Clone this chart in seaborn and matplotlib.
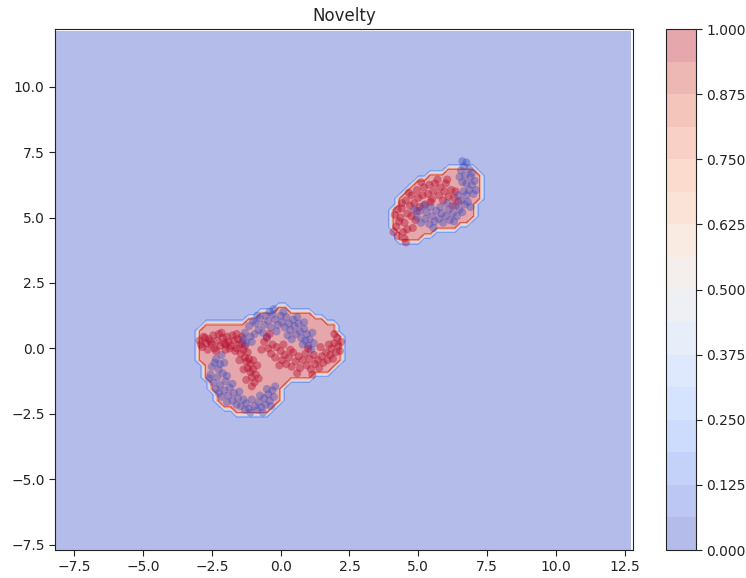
import numpy as np
import pandas as pd
import matplotlib
matplotlib.use("Agg")
import matplotlib.pyplot as plt
from matplotlib.path import Path
import seaborn as sns

# ---------------- data ----------------
x_limits = (-8.2, 12.8)
y_limits = (-7.7, 12.2)
x_ticks = [-7.5, -5.0, -2.5, 0.0, 2.5, 5.0, 7.5, 10.0, 12.5]
y_ticks = [-7.5, -5.0, -2.5, 0.0, 2.5, 5.0, 7.5, 10.0]
cbar_ticks = [0.0, 0.125, 0.25, 0.375, 0.5, 0.625, 0.75, 0.875, 1.0]

# boundary of the high-novelty region (lower cluster)
region_lower = [(-3.05, 0.45), (-2.85, 0.90), (-1.50, 0.98), (-0.95, 1.22), (-0.65, 1.42),
                (0.00, 1.60), (0.25, 1.55), (1.00, 1.42), (1.62, 1.10), (2.00, 0.85),
                (2.20, 0.45), (2.20, -0.35), (1.88, -0.86), (1.15, -1.12), (0.30, -1.18),
                (0.10, -1.38), (0.00, -1.90), (-0.20, -2.28), (-0.35, -2.52), (-1.30, -2.62),
                (-1.80, -2.38), (-2.15, -2.12), (-2.45, -1.75), (-2.70, -1.22), (-2.88, -0.60),
                (-3.05, -0.20)]
# boundary of the high-novelty region (upper cluster)
region_upper = [(6.27, 7.00), (7.00, 7.00), (7.25, 6.75), (7.25, 5.70), (7.00, 5.08),
                (6.75, 4.82), (6.15, 4.50), (5.54, 4.45), (5.06, 4.10), (4.34, 4.10),
                (4.08, 4.50), (3.96, 4.95), (4.20, 5.58), (4.58, 6.10), (5.06, 6.48),
                (5.54, 6.68), (6.03, 6.88)]

# samples, class 1 (red) and class 0 (blue)
red_lower_left = [(-2.95, 0.30), (-2.85, 0.05), (-2.80, 0.45), (-2.70, 0.20), (-2.65, -0.05), (-2.60, 0.35),
                  (-2.50, 0.15), (-2.45, 0.50), (-2.40, 0.00), (-2.30, 0.30), (-2.25, 0.55), (-2.20, 0.10),
                  (-2.10, 0.40), (-2.05, 0.20), (-2.00, -0.05), (-1.95, 0.45), (-1.90, 0.25), (-1.80, 0.10),
                  (-1.75, 0.50), (-1.70, 0.30), (-1.60, 0.00), (-1.55, 0.35), (-1.50, 0.15), (-1.45, -0.20),
                  (-1.40, 0.20), (-1.35, -0.05), (-1.30, -0.35), (-1.30, 0.10), (-1.25, -0.50), (-1.20, -0.15),
                  (-1.20, -0.75), (-1.15, -0.40), (-1.10, -0.90), (-1.10, -0.60), (-1.05, -1.10), (-1.00, -0.80),
                  (-0.95, -1.30), (-1.00, -0.45), (-0.90, -1.00), (-1.05, -1.45), (-2.75, 0.40), (-2.35, -0.10),
                  (-1.85, 0.00), (-1.65, -0.10), (-1.50, -0.45), (-0.85, -0.65), (-1.25, -1.20), (-2.55, 0.25),
                  (-2.15, 0.60), (-1.40, 0.45), (-2.90, 0.15), (-1.60, 0.55), (-0.80, -1.15), (-1.35, -0.80),
                  (-2.00, 0.15)]
blue_lower_left = [(-2.15, -0.25), (-2.35, -0.40), (-2.05, -0.55), (-2.50, -0.70), (-2.25, -0.80), (-2.55, -1.00),
                   (-2.30, -1.10), (-2.10, -0.95), (-2.45, -1.30), (-2.20, -1.40), (-2.00, -1.25), (-2.35, -1.55),
                   (-2.05, -1.60), (-1.85, -1.50), (-2.15, -1.85), (-1.90, -1.80), (-1.70, -1.70), (-1.75, -2.00),
                   (-1.55, -1.90), (-1.45, -2.20), (-1.35, -1.95), (-1.25, -2.10), (-1.15, -2.30), (-1.05, -1.95),
                   (-0.95, -2.20), (-0.85, -2.35), (-0.80, -2.05), (-0.70, -2.25), (-0.60, -1.90), (-0.55, -2.15),
                   (-0.45, -1.75), (-0.40, -2.00), (-0.30, -1.60), (-0.25, -1.85), (-0.50, -1.55), (-1.60, -2.15),
                   (-2.40, -0.55), (-1.95, -1.05), (-2.25, -1.70), (-1.10, -2.45), (-0.75, -1.80), (-1.50, -1.65),
                   (-2.60, -1.15), (-0.35, -2.20), (-1.30, -2.35), (-1.95, -2.05), (-2.20, -0.60), (-0.65, -2.45),
                   (-0.20, -1.45), (-1.75, -1.35)]
blue_lower_right = [(-1.25, 0.20), (-1.10, 0.45), (-1.30, 0.60), (-0.95, 0.55), (-1.15, 0.85), (-0.90, 0.95),
                    (-0.80, 0.70), (-0.75, 1.15), (-0.60, 0.90), (-0.55, 1.25), (-0.45, 1.05), (-0.35, 0.80),
                    (-0.30, 1.30), (-0.20, 1.10), (-0.10, 0.90), (0.00, 1.25), (0.05, 1.00), (0.15, 0.80),
                    (0.20, 1.20), (0.30, 0.95), (0.35, 0.70), (0.45, 1.10), (0.50, 0.85), (0.55, 0.55),
                    (0.65, 0.95), (0.70, 0.65), (0.75, 0.40), (0.85, 0.75), (0.90, 0.30), (0.95, 0.55),
                    (1.00, 0.10), (1.05, 0.35), (1.10, -0.05), (0.80, 0.15), (-1.05, 0.25), (-0.65, 0.60),
                    (-0.15, 0.65), (0.25, 0.50), (-0.85, 1.25), (-0.40, 1.40), (0.10, 1.40), (0.60, 1.20),
                    (1.15, 0.60), (-1.35, 0.35), (-0.50, 0.45), (0.40, 0.35), (1.20, 0.20), (-0.25, 1.50),
                    (0.85, 1.00), (-1.00, 1.05)]
red_lower_right = [(-0.60, 0.25), (-0.45, 0.00), (-0.50, 0.40), (-0.30, 0.15), (-0.35, -0.20), (-0.15, 0.05),
                   (-0.20, -0.35), (0.00, -0.10), (0.05, -0.45), (0.15, -0.25), (0.20, -0.60), (0.30, -0.35),
                   (0.40, -0.70), (0.45, -0.15), (0.55, -0.50), (0.65, -0.30), (0.70, -0.75), (0.80, -0.45),
                   (0.90, -0.20), (0.95, -0.65), (1.05, -0.40), (1.10, -0.80), (1.20, -0.25), (1.25, -0.60),
                   (1.35, -0.45), (1.40, -0.75), (1.50, -0.30), (1.55, -0.55), (1.65, -0.15), (1.70, -0.45),
                   (1.80, -0.25), (1.85, 0.00), (1.90, -0.40), (1.95, 0.20), (2.00, -0.15), (2.05, 0.40),
                   (2.10, 0.10), (1.95, 0.55), (2.15, -0.10), (1.75, 0.15), (-0.40, 0.55), (-0.70, -0.05),
                   (0.10, 0.15), (0.60, -0.95), (1.00, 0.00), (1.45, 0.05), (2.20, 0.25), (0.35, -0.05),
                   (-0.05, -0.65), (1.15, -1.00)]
red_upper = [(4.25, 4.30), (4.45, 4.45), (4.20, 4.65), (4.50, 4.80), (4.35, 5.00), (4.15, 5.10), (4.60, 5.15),
             (4.40, 5.35), (4.70, 5.45), (4.55, 5.65), (4.85, 5.55), (4.75, 5.85), (5.00, 5.75), (4.95, 6.05),
             (5.15, 5.85), (5.20, 6.15), (5.35, 5.90), (5.40, 6.25), (5.55, 6.00), (5.60, 6.30), (5.75, 5.85),
             (5.80, 6.15), (5.95, 6.00), (6.00, 6.30), (6.10, 5.80), (6.20, 6.05), (6.30, 5.75), (6.35, 6.00),
             (4.60, 4.55), (4.75, 5.05), (5.05, 5.40), (5.45, 5.60), (5.90, 5.65), (4.30, 4.85), (4.10, 4.45),
             (4.50, 4.20), (4.90, 4.90), (5.25, 5.50), (5.70, 6.45), (4.65, 5.95), (4.40, 5.55), (6.45, 5.60),
             (5.10, 6.35), (4.80, 4.60), (4.25, 5.30), (5.50, 5.70), (6.05, 6.45), (4.55, 4.05), (4.95, 5.25),
             (6.25, 5.45)]
blue_upper = [(4.95, 5.00), (5.10, 4.80), (5.05, 5.25), (5.25, 4.95), (5.30, 5.20), (5.40, 4.75), (5.50, 5.05),
              (5.60, 4.85), (5.65, 5.25), (5.75, 4.95), (5.85, 5.15), (5.90, 4.80), (6.00, 5.05), (6.10, 5.30),
              (6.15, 4.90), (6.25, 5.15), (6.35, 5.45), (6.40, 5.05), (6.50, 5.30), (6.55, 5.65), (6.60, 5.20),
              (6.70, 5.50), (6.75, 5.85), (6.80, 5.60), (6.85, 6.05), (6.65, 6.00), (6.95, 6.25), (6.75, 6.30),
              (6.90, 6.55), (6.70, 6.60), (6.85, 6.85), (6.65, 6.95), (6.75, 7.10), (6.55, 6.80), (7.00, 5.90),
              (6.95, 6.70), (6.60, 6.35), (7.05, 6.40), (5.20, 5.45), (5.80, 5.40), (6.30, 4.85), (6.45, 5.85),
              (5.45, 5.40), (6.90, 5.40), (6.50, 6.55), (4.85, 5.30), (6.05, 5.55), (7.10, 6.05), (6.60, 7.15),
              (5.55, 4.60)]

# ---------------- build tables ----------------
frames = []
for pts, label in [(blue_lower_left, 0), (red_lower_left, 1), (blue_lower_right, 0),
                   (red_lower_right, 1), (red_upper, 1), (blue_upper, 0)]:
    arr = np.array(pts)
    frames.append(pd.DataFrame({"x": arr[:, 0], "y": arr[:, 1], "label": label}))
samples = pd.concat(frames, ignore_index=True)

# novelty grid derived from the region boundaries
h = 0.22
gx = np.arange(x_limits[0], x_limits[1] + h / 2, h)
gy = np.arange(y_limits[0], y_limits[1] + h / 2, h)
XX, YY = np.meshgrid(gx, gy)
grid_pts = np.column_stack([XX.ravel(), YY.ravel()])
Z = np.zeros(len(grid_pts))
for region in (region_lower, region_upper):
    Z[Path(np.array(region)).contains_points(grid_pts)] = 1.0
Z = Z.reshape(XX.shape)

# ---------------- draw ----------------
sns.set_style("white")
plt.rcParams["font.family"] = ["DejaVu Sans"]
fig = plt.figure(figsize=(7.46, 5.78), dpi=100)
ax = fig.add_axes([0.0737, 0.0484, 0.7748, 0.9014])
cax = fig.add_axes([0.893, 0.0484, 0.040, 0.9014])

cs = ax.contourf(XX, YY, Z, levels=np.linspace(0, 1, 17), cmap="coolwarm", alpha=0.4)
sns.scatterplot(data=samples, x="x", y="y", hue="label",
                palette={0: "#3b4cc0", 1: "#b40426"}, s=34, alpha=0.4,
                edgecolor="none", legend=False, ax=ax)

ax.set_xlim(*x_limits)
ax.set_ylim(*y_limits)
ax.set_xticks(x_ticks)
ax.set_yticks(y_ticks)
ax.set_xlabel("")
ax.set_ylabel("")
ax.set_title("Novelty", fontsize=12)
for sp in ax.spines.values():
    sp.set_visible(True)
    sp.set_color("#222222")
ax.tick_params(axis="both", which="both", length=4, labelsize=10, left=True, bottom=True,
               colors="#222222")

cb = fig.colorbar(cs, cax=cax)
cb.set_ticks(cbar_ticks)
cb.set_ticklabels([f"{t:.3f}" for t in cbar_ticks])
cb.ax.tick_params(labelsize=10, length=4, colors="#222222")
cb.outline.set_edgecolor("#222222")

fig.savefig("out.png", dpi=100)
